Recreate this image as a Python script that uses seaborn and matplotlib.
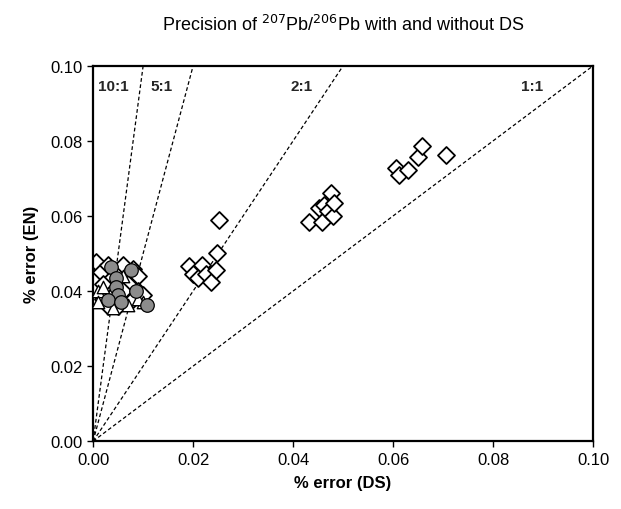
import numpy as np
import pandas as pd
import matplotlib
matplotlib.use('Agg')
import matplotlib.pyplot as plt
import seaborn as sns

# open diamonds
dia_x = [0.0192, 0.0200, 0.0210, 0.0218, 0.0225, 0.0235, 0.0245, 0.0248, 0.0252,
         0.0432, 0.0452, 0.0458, 0.0462, 0.0470, 0.0475, 0.0480, 0.0482,
         0.0605, 0.0612, 0.0630, 0.0650, 0.0658, 0.0705,
         0.0005, 0.0015, 0.0030, 0.0060, 0.0080, 0.0090, 0.0020, 0.0070, 0.0060,
         0.0090, 0.0040, 0.0020, 0.0080, 0.0100, 0.0050, 0.0030]
dia_y = [0.0468, 0.0445, 0.0435, 0.0470, 0.0445, 0.0425, 0.0455, 0.0500, 0.0588,
         0.0583, 0.0620, 0.0585, 0.0630, 0.0612, 0.0660, 0.0600, 0.0635,
         0.0728, 0.0710, 0.0722, 0.0757, 0.0787, 0.0762,
         0.0478, 0.0450, 0.0470, 0.0470, 0.0460, 0.0440, 0.0420, 0.0420, 0.0400,
         0.0400, 0.0390, 0.0380, 0.0380, 0.0390, 0.0360, 0.0360]

# open triangles
tri_x = [0.0010, 0.0010, 0.0040, 0.0070, 0.0100, 0.0090, 0.0020, 0.0060]
tri_y = [0.0400, 0.0370, 0.0355, 0.0362, 0.0370, 0.0380, 0.0410, 0.0440]

# grey circles
cir_x = [0.0035, 0.0075, 0.0045, 0.0045, 0.0050, 0.0085, 0.0030, 0.0055, 0.0108]
cir_y = [0.0465, 0.0455, 0.0435, 0.0410, 0.0390, 0.0400, 0.0375, 0.0372, 0.0362]

# reference ratio lines (EN : DS)
ratios = [1, 2, 5, 10]
ratio_labels = ['1:1', '2:1', '5:1', '10:1']
label_x = [0.0855, 0.0395, 0.0115, 0.0010]
label_y = 0.0945

fam = ['Liberation Sans', 'DejaVu Sans']

fig = plt.figure(figsize=(6.21, 5.10), dpi=100)
ax = fig.add_axes([0.150, 0.133, 0.805, 0.736])
sns.set_style('ticks')
plt.rcParams['font.family'] = fam

for r in ratios:
    lx = np.array([0, 0.1 / r])
    ax.plot(lx, r * lx, color='black', linestyle=(0, (3, 2)), linewidth=0.9, zorder=1)

sns.scatterplot(x=dia_x, y=dia_y, marker='D', s=75, color='white', edgecolor='black',
                linewidth=1.3, ax=ax, zorder=2)
sns.scatterplot(x=tri_x, y=tri_y, marker='^', s=80, color='white', edgecolor='black',
                linewidth=1.0, ax=ax, zorder=3)
sns.scatterplot(x=cir_x, y=cir_y, marker='o', s=95, color='#8c8c8c', edgecolor='black',
                linewidth=0.9, ax=ax, zorder=4)

for lab, tx in zip(ratio_labels, label_x):
    ax.text(tx, label_y, lab, fontsize=11, fontweight='bold', ha='left', va='center',
            family=fam)

ticks = np.arange(0, 0.101, 0.02)
ax.set_xlim(0, 0.1)
ax.set_ylim(0, 0.1)
ax.set_xticks(ticks)
ax.set_yticks(ticks)
ax.set_xticklabels([f'{v:.2f}' for v in ticks], fontsize=12, family=fam)
ax.set_yticklabels([f'{v:.2f}' for v in ticks], fontsize=12, family=fam)
ax.tick_params(direction='out', length=4, width=1, colors='black')
for sp in ax.spines.values():
    sp.set_visible(True)
    sp.set_linewidth(1.6)
    sp.set_color('black')

ax.set_xlabel('% error (DS)', fontsize=12, fontweight='bold', labelpad=6, family=fam)
ax.set_ylabel('% error (EN)', fontsize=12, fontweight='bold', labelpad=8, family=fam)
ax.set_title('Precision of $^{207}$Pb/$^{206}$Pb with and without DS', fontsize=13,
             pad=26, family=fam)

fig.savefig('out.png', dpi=100)
